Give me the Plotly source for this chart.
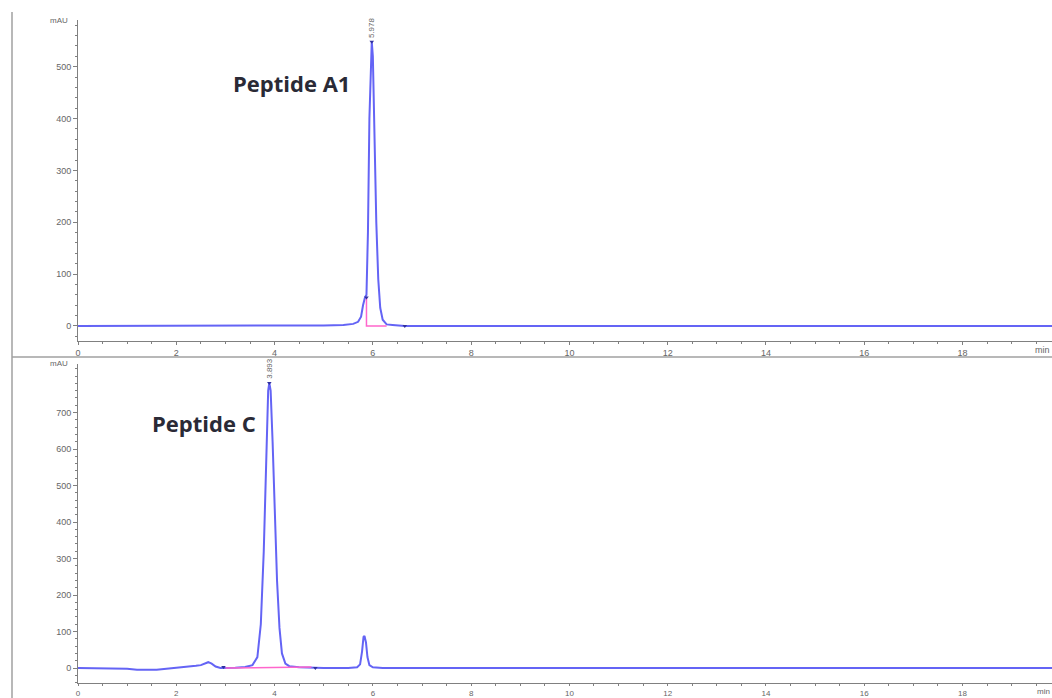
import plotly.graph_objects as go

# ---- data ----
t_top = [0, 1, 2, 3, 4, 5, 5.4, 5.6, 5.7, 5.76, 5.80, 5.84, 5.87, 5.90, 5.93, 5.96, 5.978,
         6.00, 6.03, 6.07, 6.11, 6.15, 6.20, 6.28, 6.4, 6.55, 6.65, 8, 12, 16, 20]
s_top = [0, 0, 0, 0, 0, 1, 2, 4, 8, 18, 40, 55, 60, 180, 400, 530, 548,
         520, 380, 200, 90, 35, 12, 3, 2, 1, 0, 0, 0, 0, 0]
base_t_top = [5.87, 5.87, 6.28]
base_s_top = [55, 0, 0]
mark_t_top = [5.978, 5.87, 6.65]
mark_s_top = [548, 55, 0]

t_bot = [0, 0.5, 1.0, 1.2, 1.4, 1.6, 1.8, 2.0, 2.2, 2.4, 2.5, 2.6, 2.65, 2.72, 2.8, 2.9, 3.0,
         3.2, 3.4, 3.55, 3.65, 3.72, 3.78, 3.83, 3.87, 3.893, 3.92, 3.96, 4.0, 4.05, 4.1, 4.15,
         4.22, 4.3, 4.5, 4.8, 5.0, 5.5, 5.68, 5.74, 5.78, 5.81, 5.83, 5.86, 5.89, 5.93, 6.0,
         6.2, 7, 10, 15, 20]
s_bot = [0, 0, -2, -5, -6, -5, -2, 0, 2, 6, 8, 14, 16, 12, 4, 0, 0,
         1, 3, 8, 30, 120, 320, 600, 760, 781, 760, 620, 420, 240, 110, 40,
         12, 5, 2, 0, 0, 0, 2, 10, 45, 85, 88, 70, 30, 8, 2,
         0, 0, 0, 0, 0]
base_t_bot = [3.0, 4.75]
base_s_bot = [0, 3]
mark_t_bot = [3.893, 2.96, 4.83]
mark_s_bot = [781, 3, 0]

x_ticks = [0, 2, 4, 6, 8, 10, 12, 14, 16, 18]
y_ticks_top = [0, 100, 200, 300, 400, 500]
y_ticks_bot = [0, 100, 200, 300, 400, 500, 600, 700]
peak_labels = ["5.978", "3.893"]
names = ["Peptide A1", "Peptide C"]

BLUE = "#6464f5"
PINK = "#ff66cc"
GRAY = "#808080"
TXT = "#666666"

fig = go.Figure()
for (t, s, bt, bs, mt, ms, xa, ya) in [
        (t_top, s_top, base_t_top, base_s_top, mark_t_top, mark_s_top, "x", "y"),
        (t_bot, s_bot, base_t_bot, base_s_bot, mark_t_bot, mark_s_bot, "x2", "y2")]:
    fig.add_trace(go.Scatter(x=t, y=s, mode="lines", xaxis=xa, yaxis=ya,
                             line=dict(color=BLUE, width=2), showlegend=False))
    fig.add_trace(go.Scatter(x=bt, y=bs, mode="lines", xaxis=xa, yaxis=ya,
                             line=dict(color=PINK, width=1.5), showlegend=False))
    fig.add_trace(go.Scatter(x=mt, y=ms, mode="markers", xaxis=xa, yaxis=ya,
                             marker=dict(color="#3030a0", size=4, symbol="triangle-down"),
                             showlegend=False))

x_common = dict(range=[0, 19.82], tickvals=x_ticks, ticks="outside",
                tickcolor=GRAY, showline=True, linecolor=GRAY, linewidth=1,
                showgrid=False, zeroline=False, automargin=False,
                minor=dict(dtick=0.5, ticks="outside", ticklen=2, tickcolor=GRAY))
y_common = dict(ticks="outside", ticklen=4, tickcolor=GRAY, showline=True,
                linecolor=GRAY, linewidth=1, showgrid=False, zeroline=False,
                automargin=False,
                tickfont=dict(family="Arial", size=9, color=TXT),
                minor=dict(dtick=20, ticks="outside", ticklen=2, tickcolor=GRAY))

fig.update_layout(
    width=1052, height=698,
    margin=dict(l=78, r=0, t=0, b=0),
    paper_bgcolor="white", plot_bgcolor="white",
    xaxis=dict(domain=[0, 1], anchor="y", ticklen=3,
               tickfont=dict(family="Arial", size=9, color=TXT), **x_common),
    yaxis=dict(domain=[1 - 341 / 698, 1 - 20 / 698], anchor="x",
               range=[-29, 590], tickvals=y_ticks_top, **y_common),
    xaxis2=dict(domain=[0, 1], anchor="y2", ticklen=2,
                tickfont=dict(family="Arial", size=8, color=TXT), **x_common),
    yaxis2=dict(domain=[1 - 683 / 698, 1 - 364 / 698], anchor="x2",
                range=[-41, 833], tickvals=y_ticks_bot, **y_common),
)

# border lines
fig.add_shape(type="line", xref="paper", yref="paper", x0=-66 / 974, x1=1.0,
              y0=1 - 357 / 698, y1=1 - 357 / 698, line=dict(color="#a0a0a0", width=1.5))
fig.add_shape(type="line", xref="paper", yref="paper", x0=-66 / 974, x1=-66 / 974,
              y0=0, y1=1 - 12 / 698, line=dict(color="#a0a0a0", width=1.5))

# mAU labels and min labels
for ya, fs in [("y", 9), ("y2", 8)]:
    fig.add_annotation(text="mAU", xref="paper", yref=ya + " domain", x=0, y=1,
                       xanchor="right", yanchor="middle", xshift=-8, showarrow=False,
                       font=dict(family="Arial", size=8, color=TXT))
    fig.add_annotation(text="min", xref="paper", yref=ya + " domain", x=1, y=0,
                       xanchor="right", yanchor="top", xshift=0, yshift=-2, showarrow=False,
                       font=dict(family="Arial", size=fs, color=TXT))

# peak retention-time labels (rotated)
fig.add_annotation(text=peak_labels[0], x=mark_t_top[0], y=mark_s_top[0], xref="x", yref="y",
                   textangle=-90, yanchor="bottom", xanchor="center", yshift=2,
                   showarrow=False, font=dict(family="Arial", size=8, color=TXT))
fig.add_annotation(text=peak_labels[1], x=mark_t_bot[0], y=mark_s_bot[0], xref="x2", yref="y2",
                   textangle=-90, yanchor="bottom", xanchor="center", yshift=2,
                   showarrow=False, font=dict(family="Arial", size=8, color=TXT))

# peptide names
fig.add_annotation(text="<b>" + names[0] + "</b>", xref="x", yref="y", x=4.35, y=469,
                   xanchor="center", yanchor="middle", showarrow=False,
                   font=dict(family="Open Sans", size=22, color="#2a2a36"))
fig.add_annotation(text="<b>" + names[1] + "</b>", xref="x2", yref="y2", x=2.57, y=671,
                   xanchor="center", yanchor="middle", showarrow=False,
                   font=dict(family="Open Sans", size=22, color="#2a2a36"))

fig.write_html("out.html", config={"displayModeBar": False},
               post_script="document.body.style.margin='0';")
